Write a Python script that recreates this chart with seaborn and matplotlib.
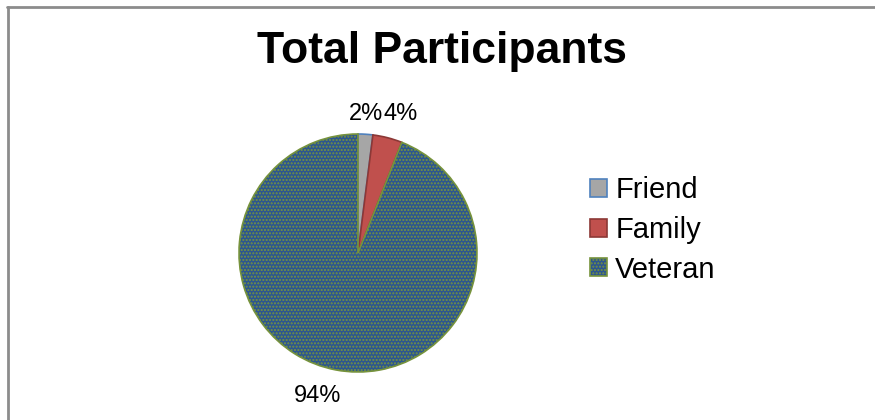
import matplotlib
matplotlib.use('Agg')
import matplotlib.pyplot as plt
import seaborn as sns
from matplotlib.patches import Patch
from matplotlib.lines import Line2D

sns.set_theme(style='white')
plt.rcParams['font.family'] = ['Liberation Sans', 'DejaVu Sans']
plt.rcParams['hatch.color'] = '#5B84C4'
plt.rcParams['text.color'] = 'black'

# data
categories = ['Friend', 'Family', 'Veteran']
shares = [2, 4, 94]

face_colors = ['#A6A6A6', '#C0504D', '#2C5690']
edge_colors = ['#4F81BD', '#8C3836', '#77933C']

fig = plt.figure(figsize=(8.75, 4.2), dpi=100)

# chart frame (only top and left edges are visible in the screenshot)
fig.add_artist(Line2D([7 / 875, 1], [1 - 7 / 420, 1 - 7 / 420], color='#8C8C8C', lw=2))
fig.add_artist(Line2D([8 / 875, 8 / 875], [0, 1 - 7 / 420], color='#8C8C8C', lw=2))

fig.text(442 / 875, 1 - 63 / 420, 'Total Participants', ha='center', va='baseline',
         fontsize=32, fontweight='bold', color='black')

r_px = 119
cx, cy = 358, 253
ax = fig.add_axes([(cx - r_px) / 875, (420 - cy - r_px) / 420, 2 * r_px / 875, 2 * r_px / 420])

wedges, texts, autotexts = ax.pie(
    shares, startangle=90, counterclock=False,
    colors=face_colors, autopct='%d%%', pctdistance=1.15,
    wedgeprops=dict(linewidth=1.2), textprops=dict(fontsize=17, color='black'))

for w, ec in zip(wedges, edge_colors):
    w.set_edgecolor(ec)
wedges[2].set_hatch('.....')

# label positions as placed by Excel
label_pos = [(0.07, 1.17), (0.36, 1.17), (-0.34, -1.20)]
for t, p in zip(autotexts, label_pos):
    t.set_position(p)
    t.set_ha('center')
    t.set_va('center')

ax.set_aspect('auto')
ax.set_xlim(-1, 1)
ax.set_ylim(-1, 1)
ax.axis('off')

handles = [Patch(facecolor=fc, edgecolor=ec, linewidth=1.2) for fc, ec in zip(face_colors, edge_colors)]
handles[2].set_hatch('.....')
fig.legend(handles, categories, loc='center left', bbox_to_anchor=(575 / 875, 1 - 230 / 420),
           frameon=False, fontsize=21, handlelength=0.58, handleheight=0.58,
           handletextpad=0.3, labelspacing=0.4, borderpad=0, labelcolor='black')

fig.savefig('out.png', dpi=100)
